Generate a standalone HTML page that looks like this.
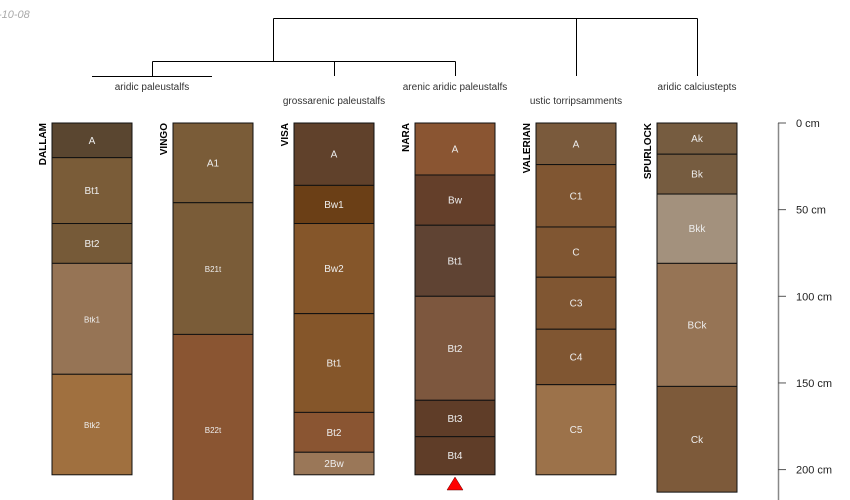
<!DOCTYPE html>
<html><head><meta charset="utf-8"><style>
body{margin:0;background:#fff}
svg{display:block;font-family:"Liberation Sans",sans-serif}
</style></head><body>
<svg id="c" width="850" height="500" xmlns="http://www.w3.org/2000/svg">
<text x="-2" y="18" font-size="11" font-style="italic" fill="#aaa">-10-08</text>
<g stroke="#000" stroke-width="1" fill="none">
<path d="M273.5 18.5H697.5M273.5 18.5V61.5M576.5 18.5V76M697.5 18.5V76M152.5 61.5H455.5M152.5 61.5V76M92 76.5H212M334.5 61.5V76M455.5 61.5V76"/>
</g>
<g font-size="10" fill="#333" text-anchor="middle">
<text x="152" y="90">aridic paleustalfs</text>
<text x="334" y="104">grossarenic paleustalfs</text>
<text x="455" y="90">arenic aridic paleustalfs</text>
<text x="576" y="104">ustic torripsamments</text>
<text x="697" y="90">aridic calciustepts</text>
</g>
<g id="profiles"></g>
<g id="axis"></g>
<polygon points="447,490 463,490 455,477" fill="#f00" stroke="#600" stroke-width="0.5"/>
</svg>
<script>
const profileNames=["DALLAM","VINGO","VISA","NARA","VALERIAN","SPURLOCK"];
const horizonNames=[["A","Bt1","Bt2","Btk1","Btk2"],["A1","B21t","B22t"],["A","Bw1","Bw2","Bt1","Bt2","2Bw"],["A","Bw","Bt1","Bt2","Bt3","Bt4"],["A","C1","C","C3","C4","C5"],["Ak","Bk","Bkk","BCk","Ck"]];
const horizonDepths=[[0,20,58,81,145,203],[0,46,122,232],[0,36,58,110,167,190,203],[0,30,59,100,160,181,203],[0,24,60,89,119,151,203],[0,18,41,81,152,213]];
const horizonColors=[["#5a4630","#7a5c38","#765a38","#967455","#a0703f"],["#7a5c38","#7a5c38","#8a5532"],["#60412b","#6b3f16","#85562a","#85562a","#8a5532","#9a7758"],["#8a5532","#643f2a","#5f4333","#7d573e","#5f3d28","#5f3d28"],["#7a5a3c","#805632","#805632","#805632","#805632","#9c724a"],["#765c40","#765c40","#a3917d","#967455","#7d5a3a"]];
const depthTicks=[0,50,100,150,200];
const NS="http://www.w3.org/2000/svg";
const y=d=>123+d*1.733;
const x=i=>52+i*121;
const W=80;
function mk(t,a,p){const e=document.createElementNS(NS,t);for(const k in a)e.setAttribute(k,a[k]);p.appendChild(e);return e;}
const P=document.getElementById('profiles');
profileNames.forEach((n,i)=>{
  const g=mk('g',{},P);
  
  
  const d=horizonDepths[i];
  horizonNames[i].forEach((h,j)=>{
    const r=mk('rect',{x:x(i),y:y(d[j]),width:W,height:y(d[j+1])-y(d[j]),fill:horizonColors[i][j],stroke:'#111','stroke-width':1},g);
    
    
    const small=(h.length>=4&&h!=="2Bw");
    const t=mk('text',{x:x(i)+W/2,y:(y(d[j])+y(d[j+1]))/2+3.5,'font-size':small?8:10,fill:'#eee','text-anchor':'middle'},g);
    t.textContent=h;
    
    
  });
  const t=mk('text',{x:0,y:0,'font-size':10,'font-weight':'bold',fill:'#000','text-anchor':'end',transform:`translate(${x(i)-6},123) rotate(-90)`},g);
  t.textContent=n;
  
  
});
const A=document.getElementById('axis');
mk('line',{x1:778.5,x2:778.5,y1:y(0),y2:500,stroke:'#888','stroke-width':1.5},A);
depthTicks.forEach(v=>{
  mk('line',{x1:778,x2:786,y1:y(v),y2:y(v),stroke:'#555','stroke-width':1},A);
  const t=mk('text',{x:796,y:y(v)+4,'font-size':11,fill:'#222'},A);
  t.textContent=v+' cm';
  
  
});
</script>
</body></html>
